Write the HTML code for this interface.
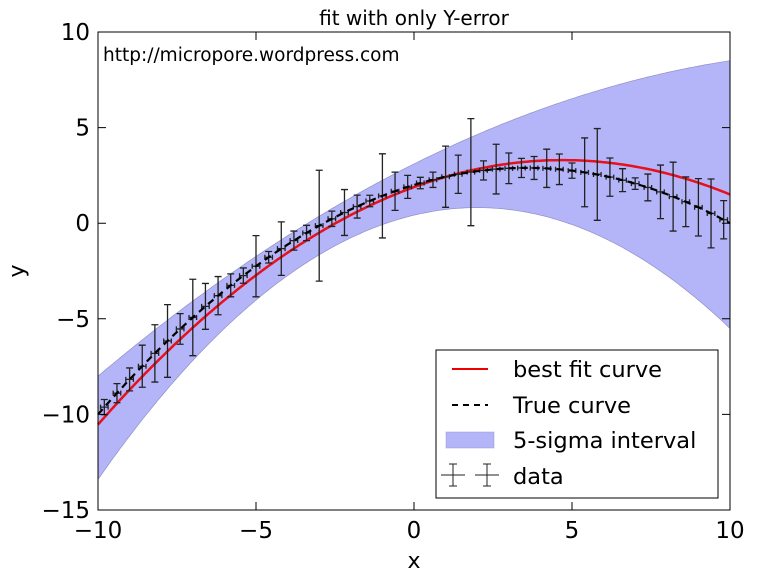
<!DOCTYPE html>
<html><head><meta charset="utf-8"><style>
body{margin:0;background:#fff;}
svg{display:block;font-family:"DejaVu Sans","Liberation Sans",sans-serif;}
</style></head><body>
<svg id="chart" width="768" height="576" viewBox="0 0 768 576" xmlns="http://www.w3.org/2000/svg">
<rect width="768" height="576" fill="#fff"/>
<g id="plot"></g>
<text x="414" y="25" font-size="20" text-anchor="middle">fit with only Y-error</text>
<text x="103" y="61" font-size="18.5">http://micropore.wordpress.com</text>
<text x="414" y="568" font-size="22" text-anchor="middle">x</text>
<text x="24" y="271" font-size="22" text-anchor="middle" transform="rotate(-90 24 271)">y</text>
<g>
<rect x="436" y="350" width="282" height="148" fill="#fff" stroke="#000" stroke-width="1"/>
<line x1="452" y1="369" x2="488" y2="369" stroke="#e00" stroke-width="2"/>
<text x="513" y="377" font-size="22.5">best fit curve</text>
<line x1="452" y1="405" x2="488" y2="405" stroke="#000" stroke-width="2" stroke-dasharray="6,5"/>
<text x="513" y="413" font-size="22.5">True curve</text>
<rect x="446" y="432" width="48" height="16" fill="#b4b4f8" stroke="#9999cc" stroke-width="0.5"/>
<text x="513" y="448" font-size="22.5">5-sigma interval</text>
<g stroke="#222" stroke-width="1"><line x1="441" y1="475" x2="465" y2="475"/><line x1="453" y1="464" x2="453" y2="486"/><line x1="449" y1="464" x2="457" y2="464"/><line x1="449" y1="486" x2="457" y2="486"/><line x1="475" y1="475" x2="499" y2="475"/><line x1="487" y1="464" x2="487" y2="486"/><line x1="483" y1="464" x2="491" y2="464"/><line x1="483" y1="486" x2="491" y2="486"/></g>
<text x="513" y="484" font-size="22.5">data</text>
</g>
</svg>
<script>
const xTicks=[-10,-5,0,5,10];
const yTicks=[10,5,0,-5,-10,-15];
const xTickLabels=["\u221210","\u22125","0","5","10"];
const yTickLabels=["10","5","0","\u22125","\u221210","\u221215"];
const dataX=[-9.8,-9.4,-9.0,-8.6,-8.2,-7.8,-7.4,-7.0,-6.6,-6.2,-5.8,-5.4,-5.0,-4.6,-4.2,-3.8,-3.4,-3.0,-2.6,-2.2,-1.8,-1.4,-1.0,-0.6,-0.2,0.2,0.6,1.0,1.4,1.8,2.2,2.6,3.0,3.4,3.8,4.2,4.6,5.0,5.4,5.8,6.2,6.6,7.0,7.4,7.8,8.2,8.6,9.0,9.4,9.8];
const dataY=[-9.62,-8.89,-8.17,-7.48,-6.81,-6.16,-5.53,-4.93,-4.35,-3.79,-3.25,-2.74,-2.25,-1.78,-1.33,-0.91,-0.51,-0.13,0.23,0.56,0.87,1.16,1.43,1.67,1.90,2.10,2.27,2.43,2.56,2.67,2.76,2.83,2.87,2.89,2.89,2.87,2.82,2.75,2.66,2.55,2.41,2.25,2.07,1.87,1.64,1.39,1.12,0.83,0.51,0.18];
const dataYErr=[0.4,0.5,0.6,1.1,1.5,1.9,0.8,2.0,1.2,1.0,0.6,0.4,1.6,0.3,1.4,0.5,0.4,2.9,0.4,1.2,0.6,0.3,2.2,1.0,0.6,0.3,0.4,1.6,1.0,2.8,0.5,1.3,0.8,0.5,0.6,1.0,0.8,0.4,1.8,2.4,1.0,0.6,0.3,0.7,1.4,1.8,1.3,1.5,1.8,1.0];
const dataXErr=[0.12,0.12,0.12,0.12,0.12,0.12,0.12,0.12,0.12,0.12,0.12,0.12,0.12,0.12,0.12,0.12,0.12,0.12,0.12,0.12,0.12,0.12,0.12,0.12,0.12,0.12,0.12,0.12,0.12,0.12,0.12,0.12,0.12,0.12,0.12,0.12,0.12,0.12,0.12,0.12,0.12,0.12,0.12,0.12,0.12,0.12,0.12,0.12,0.12,0.12];
const trueCoef=[-0.07,0.5,2.0];
const fitCoef=[-0.064,0.6016,1.886];
const bandUpperCoef=[-0.0285,0.825,3.1];
const bandLowerCoef=[-0.0987,0.395,0.42];

const L=98,R=730,T=32,B=510;
const X=v=>L+(v+10)/20*(R-L);
const Y=v=>T+(10-v)/25*(B-T);
const q=(c,x)=>c[0]*x*x+c[1]*x+c[2];
const NS="http://www.w3.org/2000/svg";
const g=document.getElementById('plot');
function mk(tag,attrs){const e=document.createElementNS(NS,tag);for(const k in attrs)e.setAttribute(k,attrs[k]);g.appendChild(e);return e;}
const xs=[];for(let i=0;i<=200;i++)xs.push(-10+i*0.1);
function curvePts(c){return xs.map(x=>X(x).toFixed(1)+','+Y(q(c,x)).toFixed(1));}
let band=mk('polygon',{points:curvePts(bandUpperCoef).concat(curvePts(bandLowerCoef).reverse()).join(' '),fill:'#b4b4f8',stroke:'#9090c8','stroke-width':0.7});


let fit=mk('polyline',{points:curvePts(fitCoef).join(' '),fill:'none',stroke:'#e8101a','stroke-width':2.5});


for(let i=0;i<dataX.length;i++){
  const cx=X(dataX[i]),cy=Y(dataY[i]),y1=Y(dataY[i]+dataYErr[i]),y2=Y(dataY[i]-dataYErr[i]);
  const x1=X(dataX[i]-dataXErr[i]),x2=X(dataX[i]+dataXErr[i]);
  const p=mk('path',{d:`M${cx},${y1}V${y2}M${cx-3.5},${y1}H${cx+3.5}M${cx-3.5},${y2}H${cx+3.5}M${x1},${cy}H${x2}M${x1},${cy-2.5}V${cy+2.5}M${x2},${cy-2.5}V${cy+2.5}`,stroke:'#222',fill:'none','stroke-width':1.3});
  
  
}
let tc=mk('polyline',{points:curvePts(trueCoef).join(' '),fill:'none',stroke:'#000','stroke-width':2.2,'stroke-dasharray':'7,5'});


let fr=mk('rect',{x:L,y:T,width:R-L,height:B-T,fill:'none',stroke:'#000','stroke-width':1});


xTicks.forEach((v,i)=>{
  const x=X(v);
  const t=mk('path',{d:`M${x},${B}V${B-8}M${x},${T}V${T+8}`,stroke:'#000'});
  
  
  const lb=mk('text',{x:x,y:B+28,'font-size':23,'text-anchor':'middle'});lb.textContent=xTickLabels[i];
  
  
});
yTicks.forEach((v,i)=>{
  const y=Y(v);
  const t=mk('path',{d:`M${L},${y}H${L+8}M${R},${y}H${R-8}`,stroke:'#000'});
  
  
  const lb=mk('text',{x:L-8,y:y+8,'font-size':23,'text-anchor':'end'});lb.textContent=yTickLabels[i];
  
  
});
</script>
</body></html>
